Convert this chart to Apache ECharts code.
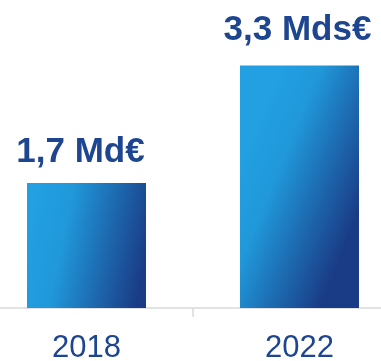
<!DOCTYPE html>
<html>
<head>
<meta charset="utf-8">
<script src="https://cdn.jsdelivr.net/npm/echarts@6/dist/echarts.min.js"></script>
<style>
  html, body { margin: 0; padding: 0; background: #fff; }
  #chart { width: 381px; height: 361px; }
</style>
</head>
<body>
<div id="chart"></div>
<script>
// Years and amounts (billions of euros)
const years = ['2018', '2022'];
const amounts = [1.7, 3.3];
const valueLabels = ['1,7 Md€', '3,3 Mds€'];

const textBlue = '#1d4590';

const barFill = new echarts.graphic.LinearGradient(0, 0.4, 1, 0.6, [
  { offset: 0, color: '#22a0e2' },
  { offset: 0.3, color: '#2098da' },
  { offset: 1, color: '#1a3c86' }
]);

const labelOffsets = [[-6, 1], [-2, -4]];

const chart = echarts.init(document.getElementById('chart'), null, { renderer: 'canvas' });
chart.setOption({
  animation: false,
  grid: { left: -20, right: -25, top: 14, bottom: 53, outerBoundsMode: 'none', containLabel: false },
  xAxis: {
    type: 'category',
    data: years,
    axisLine: { show: true, lineStyle: { color: '#d9d9d9', width: 1.5 } },
    axisTick: { show: true, length: 9, lineStyle: { color: '#d9d9d9', width: 1.5 } },
    axisLabel: { color: textBlue, fontSize: 31, fontFamily: 'Liberation Sans, Arial, sans-serif', margin: 25 }
  },
  yAxis: {
    type: 'value',
    min: 0,
    max: 4,
    show: false,
    splitLine: { show: false }
  },
  series: [{
    type: 'bar',
    barWidth: 119,
    data: amounts.map((v, i) => ({
      value: v,
      label: { formatter: valueLabels[i], offset: labelOffsets[i] }
    })),
    itemStyle: { color: barFill },
    label: {
      show: true,
      position: 'top',
      distance: 14,
      color: textBlue,
      fontSize: 35,
      fontWeight: 'bold',
      fontFamily: 'Liberation Sans, Arial, sans-serif'
    }
  }]
});
</script>
</body>
</html>
